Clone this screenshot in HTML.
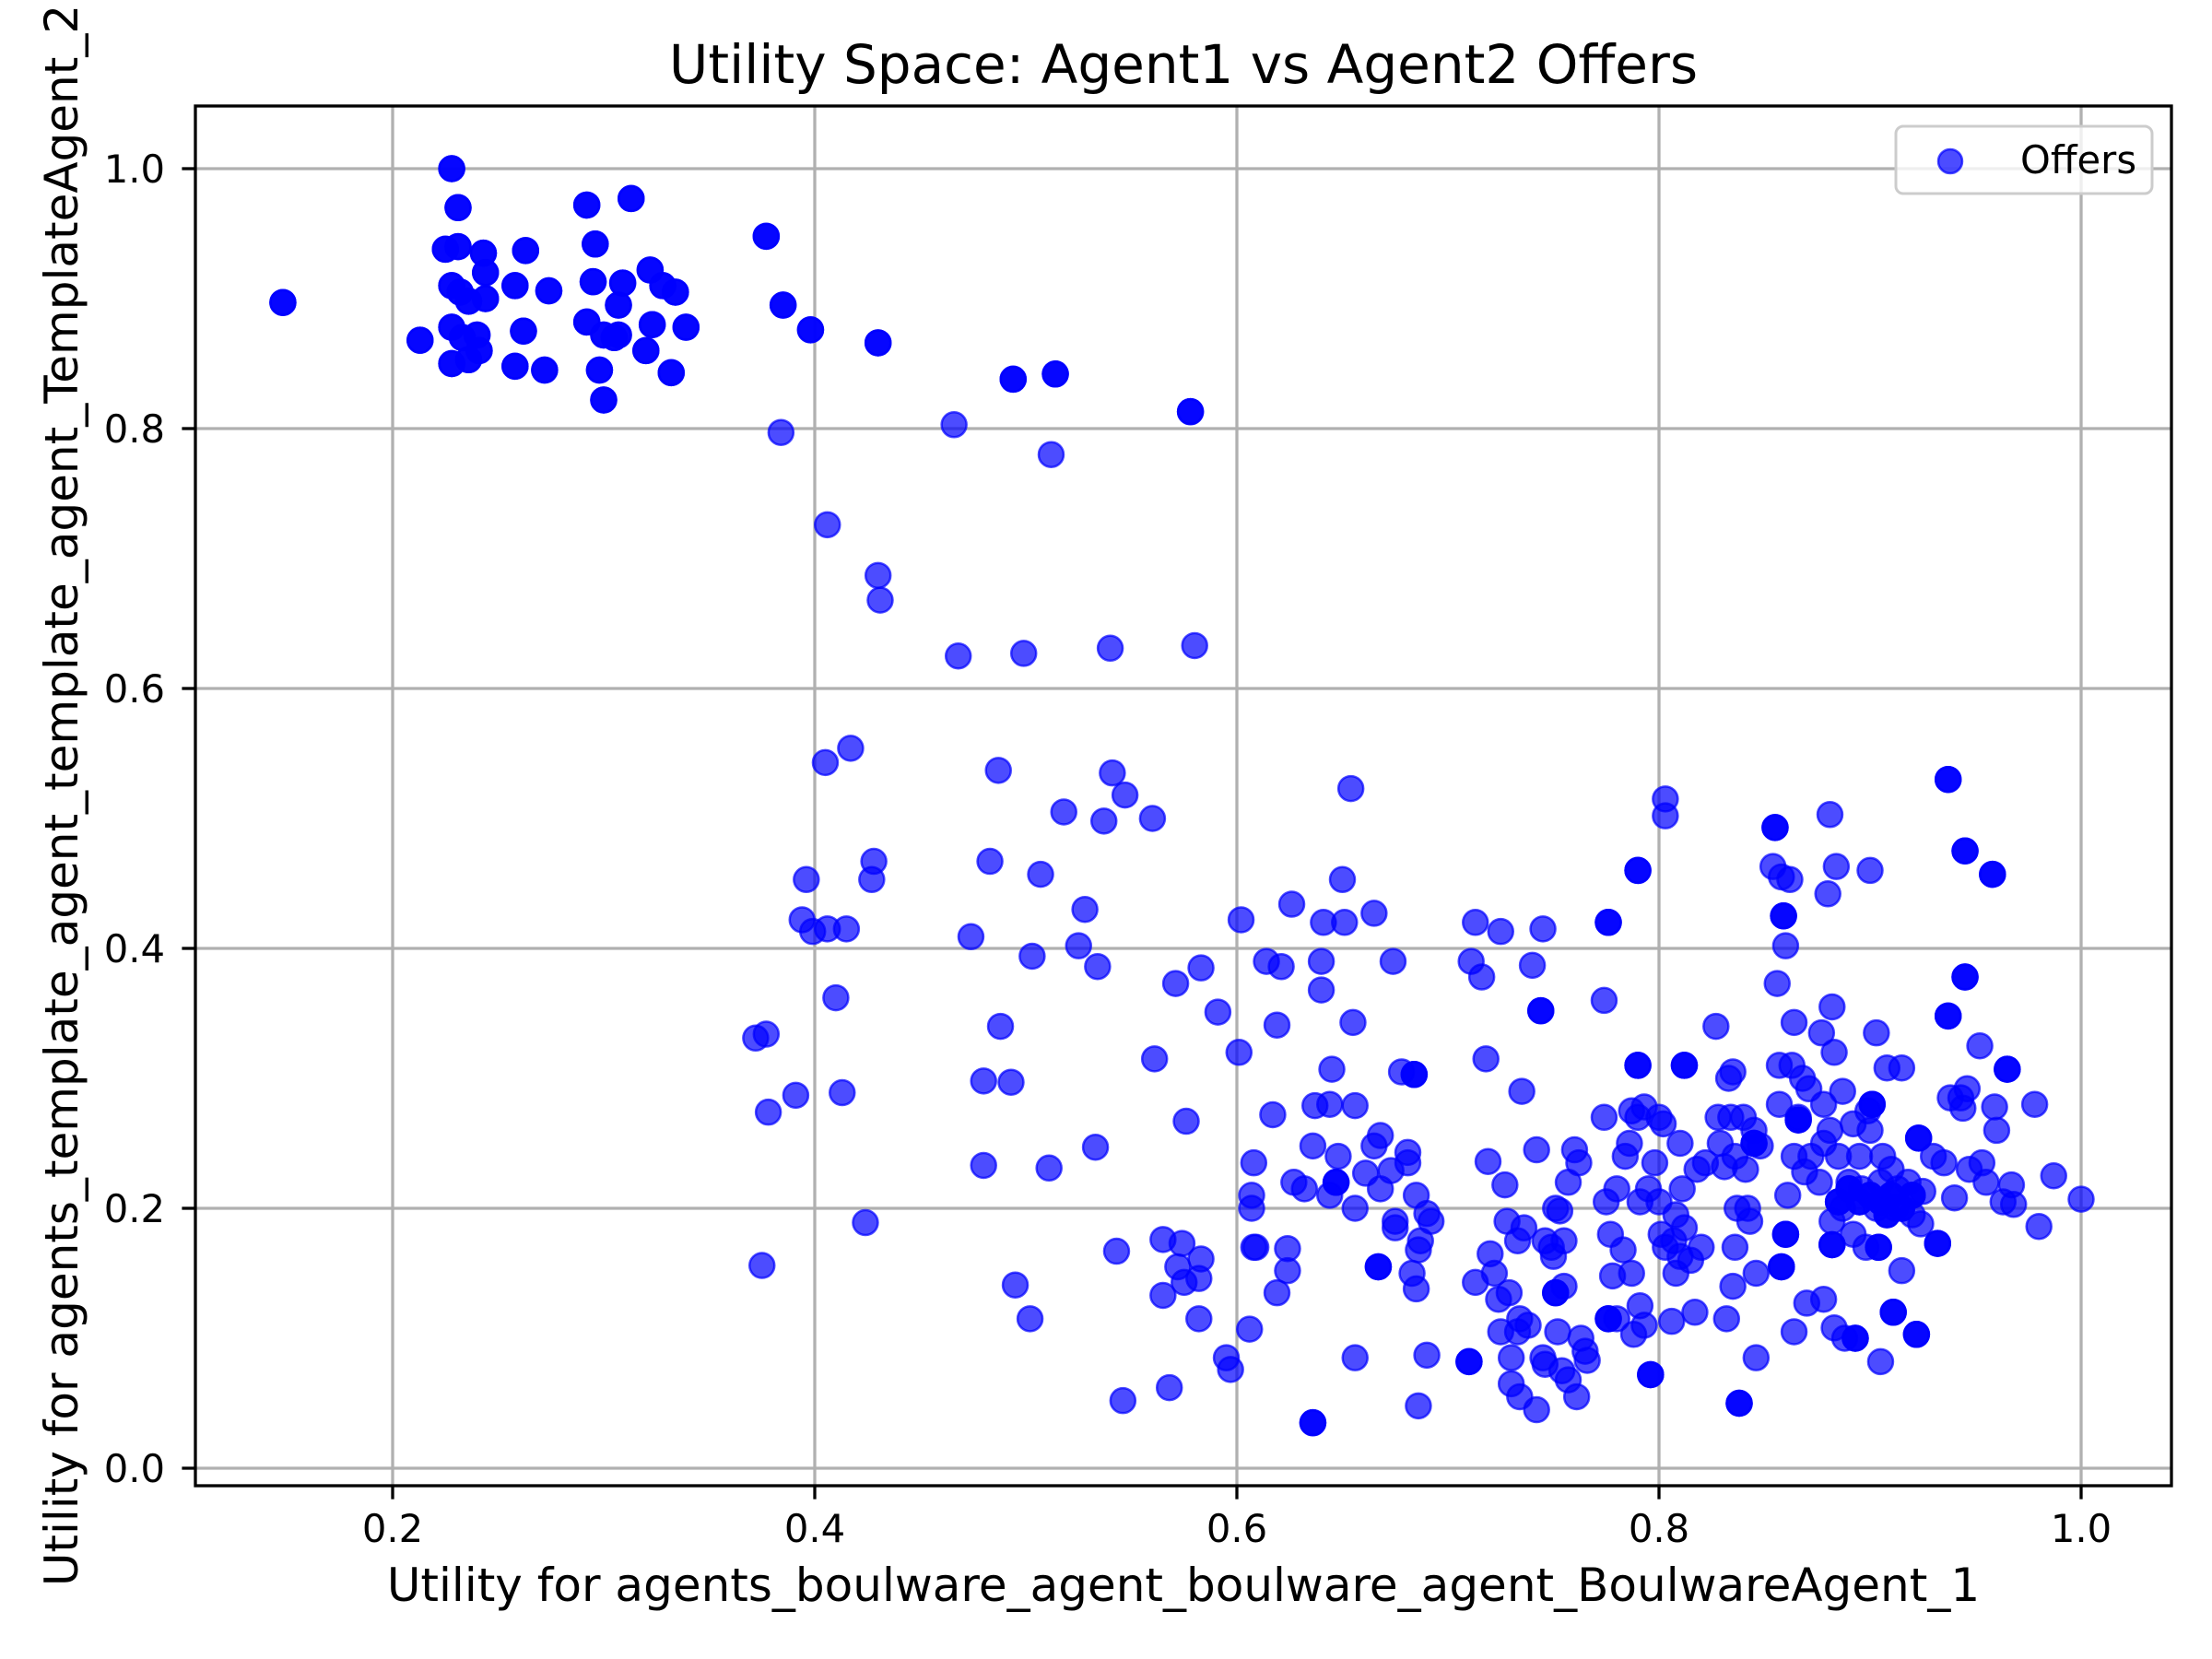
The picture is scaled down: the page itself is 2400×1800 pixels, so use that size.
<!DOCTYPE html>
<html><head><meta charset="utf-8"><style>
html,body{margin:0;padding:0;background:#fff;}
svg{display:block;font-family:"DejaVu Sans","Liberation Sans",sans-serif;}
</style></head><body>
<svg id="chart" width="2400" height="1800" viewBox="0 0 2400 1800" xmlns="http://www.w3.org/2000/svg">
<rect width="2400" height="1800" fill="#fff"/>
<g id="grid"></g>
<g id="pts"></g>
<rect x="212" y="115" width="2144" height="1497" fill="none" stroke="#000" stroke-width="3.3"/>
<g id="ticks"></g>
<text x="1284" y="90" font-size="58" text-anchor="middle">Utility Space: Agent1 vs Agent2 Offers</text>
<text x="1284" y="1737" font-size="50" text-anchor="middle">Utility for agents_boulware_agent_boulware_agent_BoulwareAgent_1</text>
<text transform="translate(84,863) rotate(-90)" font-size="50" text-anchor="middle">Utility for agents_template_agent_template_agent_TemplateAgent_2</text>
<g>
<rect x="2057" y="137" width="278" height="73" rx="8" fill="#fff" fill-opacity="0.8" stroke="#cccccc" stroke-width="3"/>
<circle cx="2116" cy="175" r="13" fill="#0000ff" fill-opacity="0.7" stroke="#0000ff" stroke-opacity="0.7" stroke-width="2.5"/>
<text x="2192" y="188" font-size="41.7">Offers</text>
</g>
</svg>
<script>
const xTicks = [0.2, 0.4, 0.6, 0.8, 1.0];
const xTickLabels = ["0.2", "0.4", "0.6", "0.8", "1.0"];
const yTicks = [0.0, 0.2, 0.4, 0.6, 0.8, 1.0];
const yTickLabels = ["0.0", "0.2", "0.4", "0.6", "0.8", "1.0"];
const offersX = [0.148,0.213,0.228,0.231,0.225,0.231,0.228,0.232,0.236,0.243,0.244,0.244,0.228,0.233,0.24,0.236,0.228,0.241,0.258,0.263,0.262,0.258,0.272,0.274,0.292,0.296,0.295,0.292,0.3,0.298,0.3,0.307,0.307,0.309,0.313,0.32,0.322,0.323,0.328,0.334,0.332,0.339,0.305,
0.377,0.385,0.398,0.43,0.384,0.466,0.494,0.514,0.512,0.578,0.406,0.43,0.431,0.468,0.499,0.54,0.58,
0.405,0.417,0.428,0.427,0.396,0.394,0.399,0.406,0.415,0.41,0.372,0.377,0.378,0.391,0.413,0.375,0.424,0.487,0.483,0.474,0.488,0.48,0.493,0.48,0.507,0.503,0.511,0.495,0.502,0.518,0.541,0.547,0.537,0.56,0.525,0.528,0.534,0.533,0.561,0.543,0.546,0.571,0.583,0.591,0.576,0.601,0.602,0.565,0.565,0.574,0.572,0.575,0.583,0.582,0.582,0.568,0.595,0.597,0.606,
0.614,0.621,0.619,0.608,0.607,0.607,0.608,0.609,0.617,0.619,0.624,0.624,0.626,0.627,0.632,0.636,0.636,0.637,0.64,0.64,0.641,0.644,0.645,0.644,0.647,0.648,0.65,0.651,0.654,0.655,0.656,0.656,0.656,0.661,0.665,0.668,0.665,0.668,0.667,0.673,0.674,0.675,0.675,0.678,0.681,0.684,0.681,0.683,0.685,0.685,0.686,0.687,0.686,0.69,0.69,0.692,0.711,0.713,0.716,0.71,0.713,0.718,0.719,0.72,0.722,0.724,0.725,0.725,0.727,0.728,0.729,0.73,0.73,0.733,0.734,0.735,0.734,0.733,0.736,0.738,0.74,0.742,0.742,0.744,0.745,0.746,0.745,0.746,0.749,0.75,0.751,0.752,0.751,0.753,0.754,0.755,0.757,0.755,0.757,0.76,0.762,0.761,0.763,0.765,0.766,
0.774,0.774,0.776,0.775,0.777,0.776,0.778,0.78,0.78,0.783,0.784,0.786,0.787,0.787,0.788,0.79,0.79,0.79,0.791,0.791,0.793,0.793,0.795,0.796,0.798,0.8,0.8,0.801,0.802,0.803,0.803,0.803,0.806,0.807,0.808,0.808,0.81,0.811,0.812,0.81,0.812,0.815,0.817,0.818,0.82,0.822,0.827,0.828,0.829,0.831,0.832,0.833,0.834,0.835,0.835,0.836,0.836,0.837,0.838,0.84,0.841,0.842,0.843,0.845,0.846,0.846,0.845,0.848,
0.855,0.854,0.856,0.857,0.857,0.858,0.858,0.859,0.86,0.86,0.861,0.862,0.863,0.864,0.864,0.864,0.866,0.866,0.868,0.869,0.87,0.871,0.872,0.876,0.877,0.878,0.878,0.878,0.88,0.881,0.882,0.881,0.882,0.882,0.883,0.883,0.884,0.885,0.887,0.887,0.888,0.89,0.892,0.892,0.893,0.895,0.896,0.898,0.899,0.9,0.9,0.901,0.903,0.903,0.904,0.905,0.905,0.906,0.908,0.908,0.91,0.911,0.912,0.913,0.915,0.915,0.918,0.92,0.922,0.923,0.924,0.925,0.93,0.932,0.935,0.937,0.937,0.938,0.94,0.943,0.944,0.945,0.945,0.946,0.947,0.952,0.953,0.955,0.958,0.959,0.96,0.963,0.965,0.967,0.968,0.978,0.98,0.987,1.0,
0.895,0.9,0.905,0.91,0.89,0.885,0.915,0.92];
const offersY = [0.897,0.868,1.0,0.97,0.938,0.94,0.91,0.905,0.898,0.935,0.92,0.9,0.878,0.87,0.872,0.853,0.85,0.86,0.91,0.937,0.875,0.848,0.845,0.906,0.972,0.942,0.913,0.882,0.872,0.845,0.822,0.872,0.895,0.912,0.977,0.86,0.922,0.88,0.91,0.905,0.843,0.878,0.87,
0.948,0.895,0.876,0.866,0.797,0.803,0.838,0.842,0.78,0.813,0.726,0.687,0.668,0.625,0.627,0.631,0.633,
0.543,0.554,0.467,0.453,0.453,0.422,0.413,0.415,0.415,0.362,0.331,0.334,0.274,0.287,0.289,0.156,0.189,0.537,0.467,0.409,0.34,0.298,0.297,0.233,0.457,0.394,0.231,0.141,0.115,0.505,0.535,0.518,0.498,0.5,0.402,0.43,0.386,0.247,0.315,0.167,0.052,0.373,0.385,0.351,0.267,0.32,0.422,0.176,0.133,0.173,0.155,0.143,0.161,0.146,0.115,0.062,0.085,0.076,0.107,
0.39,0.386,0.341,0.235,0.21,0.2,0.17,0.17,0.272,0.135,0.152,0.169,0.434,0.22,0.215,0.035,0.248,0.279,0.39,0.368,0.42,0.28,0.307,0.21,0.22,0.24,0.453,0.42,0.523,0.343,0.279,0.085,0.2,0.227,0.427,0.256,0.248,0.215,0.155,0.229,0.39,0.185,0.19,0.305,0.235,0.303,0.243,0.15,0.138,0.21,0.168,0.175,0.048,0.196,0.087,0.19,0.39,0.42,0.378,0.082,0.143,0.315,0.236,0.165,0.15,0.13,0.105,0.413,0.218,0.19,0.135,0.085,0.065,0.105,0.115,0.29,0.055,0.175,0.185,0.11,0.387,0.045,0.245,0.352,0.415,0.175,0.085,0.08,0.17,0.163,0.2,0.105,0.135,0.198,0.075,0.14,0.068,0.175,0.22,0.245,0.235,0.055,0.1,0.09,0.083,
0.36,0.27,0.42,0.205,0.18,0.115,0.148,0.115,0.215,0.168,0.24,0.25,0.275,0.15,0.103,0.46,0.31,0.27,0.205,0.125,0.11,0.278,0.215,0.072,0.235,0.27,0.205,0.18,0.265,0.515,0.502,0.17,0.113,0.175,0.195,0.15,0.163,0.215,0.31,0.25,0.185,0.16,0.12,0.23,0.17,0.235,0.34,0.27,0.25,0.232,0.115,0.3,0.27,0.305,0.14,0.17,0.24,0.2,0.05,0.27,0.23,0.2,0.19,0.26,0.15,0.085,0.25,0.248,
0.493,0.463,0.373,0.31,0.28,0.455,0.155,0.425,0.402,0.18,0.21,0.453,0.31,0.343,0.24,0.105,0.27,0.268,0.3,0.228,0.127,0.292,0.24,0.22,0.335,0.13,0.28,0.25,0.442,0.503,0.355,0.26,0.19,0.172,0.32,0.108,0.463,0.24,0.29,0.2,0.1,0.22,0.265,0.18,0.1,0.24,0.215,0.17,0.275,0.46,0.26,0.28,0.335,0.2,0.17,0.22,0.082,0.24,0.195,0.308,0.23,0.12,0.2,0.215,0.308,0.152,0.22,0.195,0.103,0.254,0.188,0.213,0.24,0.173,0.235,0.53,0.348,0.285,0.208,0.285,0.277,0.475,0.378,0.292,0.23,0.325,0.235,0.22,0.457,0.278,0.26,0.205,0.307,0.218,0.203,0.28,0.186,0.225,0.207,
0.205,0.21,0.205,0.21,0.215,0.205,0.2,0.21];
const offersCount = [3,3,3,3,3,3,3,3,3,3,3,3,3,3,3,3,3,3,3,3,3,3,3,3,3,3,3,3,3,3,3,3,3,3,3,3,3,3,3,3,3,3,3,
3,3,3,3,1,1,3,3,1,3,1,1,1,1,1,1,1,
1,1,1,1,1,1,1,1,1,1,1,1,1,1,1,1,1,1,1,1,1,1,1,1,1,1,1,1,1,1,1,1,1,1,1,1,1,1,1,1,1,1,1,1,1,1,1,1,1,1,1,1,1,1,1,1,1,1,1,
1,1,1,1,1,1,1,1,1,1,1,1,1,1,1,3,1,1,1,1,1,1,1,1,3,1,1,1,1,1,1,1,1,1,1,1,1,1,3,1,1,1,1,1,1,3,1,1,1,1,1,1,1,1,1,1,1,1,1,3,1,1,1,1,1,1,1,1,1,1,1,1,1,1,1,1,1,1,1,1,1,1,1,3,1,1,1,1,1,1,1,1,3,1,1,1,1,1,1,1,1,1,1,1,1,
1,1,3,1,1,3,1,1,1,1,1,1,1,1,1,3,3,1,1,1,1,1,1,3,1,1,1,1,1,1,1,1,1,1,1,1,1,1,3,1,1,1,1,1,1,1,1,1,1,1,1,1,1,1,1,1,1,1,3,1,1,1,1,1,1,1,3,1,
3,1,1,1,1,1,3,3,1,3,1,1,1,1,1,1,1,3,1,1,1,1,1,1,1,1,1,1,1,1,1,1,1,3,1,1,1,1,1,1,1,1,1,1,3,1,1,1,1,1,1,3,1,1,3,1,1,1,3,1,1,3,1,1,1,1,1,1,3,3,1,1,1,3,1,3,3,1,1,1,1,3,3,1,1,1,1,1,3,1,1,1,3,1,1,1,1,1,1,
3,3,3,3,3,3,3,3];

const NS = "http://www.w3.org/2000/svg";
const L = 212, R = 2356, T = 115, B = 1612;
function xs(v){ return 426 + (v - 0.2) * 2290; }
function ys(v){ return 1593 - v * 1410; }
function mk(tag, attrs, parent){ const e = document.createElementNS(NS, tag); for (const k in attrs) e.setAttribute(k, attrs[k]); parent.appendChild(e); return e; }

const grid = document.getElementById('grid');
const ticks = document.getElementById('ticks');
xTicks.forEach((v, i) => {
  const g = mk('line', {x1: xs(v), x2: xs(v), y1: T, y2: B, stroke: '#b0b0b0', 'stroke-width': 3.3}, grid);
  
  
  const t = mk('line', {x1: xs(v), x2: xs(v), y1: B, y2: B + 14.6, stroke: '#000', 'stroke-width': 3.3}, ticks);
  
  
  const lb = mk('text', {x: xs(v), y: 1673, 'font-size': 41.7, 'text-anchor': 'middle'}, ticks);
  lb.textContent = xTickLabels[i];
  
  
});
yTicks.forEach((v, i) => {
  const g = mk('line', {x1: L, x2: R, y1: ys(v), y2: ys(v), stroke: '#b0b0b0', 'stroke-width': 3.3}, grid);
  
  
  const t = mk('line', {x1: L - 14.6, x2: L, y1: ys(v), y2: ys(v), stroke: '#000', 'stroke-width': 3.3}, ticks);
  
  
  const lb = mk('text', {x: 179, y: ys(v) + 15, 'font-size': 41.7, 'text-anchor': 'end'}, ticks);
  lb.textContent = yTickLabels[i];
  
  
});

const pts = document.getElementById('pts');
for (let i = 0; i < offersX.length; i++) {
  const n = offersCount[i] || 1;
  for (let k = 0; k < n; k++) {
    const c = mk('circle', {cx: xs(offersX[i]), cy: ys(offersY[i]), r: 13.5, fill: '#0000ff', 'fill-opacity': 0.7, stroke: '#0000ff', 'stroke-opacity': 0.7, 'stroke-width': 2.5}, pts);
    
    
  }
}
</script>
</body></html>
